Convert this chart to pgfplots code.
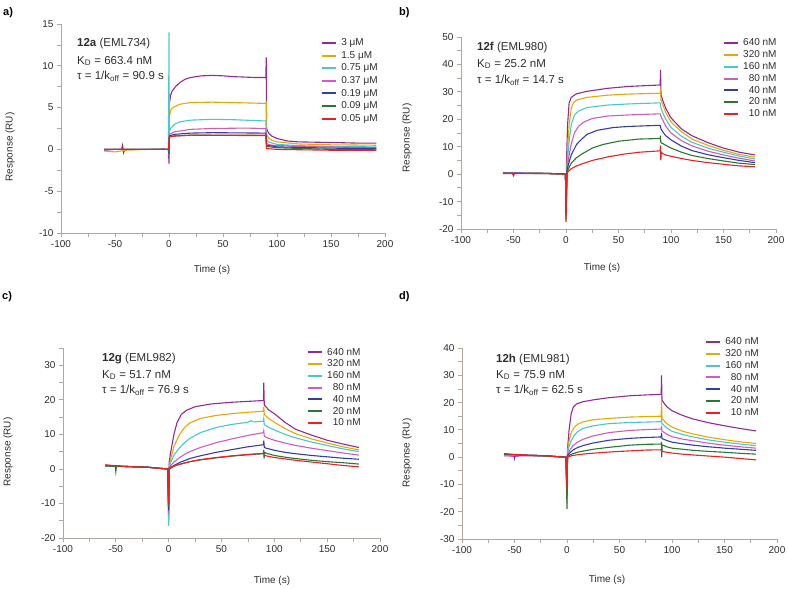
\documentclass[border=0pt]{standalone}
\usepackage{fontspec}
\setmainfont{Liberation Sans}
\usepackage{pgfplots}
\pgfplotsset{compat=1.18}
\definecolor{cP}{RGB}{150,40,150}
\definecolor{cO}{RGB}{232,168,0}
\definecolor{cC}{RGB}{70,200,210}
\definecolor{cK}{RGB}{210,90,190}
\definecolor{cB}{RGB}{50,60,170}
\definecolor{cG}{RGB}{40,120,50}
\definecolor{cR}{RGB}{240,30,30}
\definecolor{axc}{RGB}{175,168,155}
\definecolor{txt}{RGB}{45,45,45}
\pgfplotsset{
  spr/.style={scale only axis, axis lines*=left,
    axis line style={draw=axc, line width=0.8pt, -},
    every tick/.style={draw=axc, line width=0.8pt},
    tick align=outside, major tick length=4pt, minor tick length=4pt,
    xmin=-100, xmax=200, xtick={-100,-50,...,200},
    xticklabels={-100,-50,0,50,100,150,200},
    minor x tick num=1, minor y tick num=1,
    ticklabel style={font=\fontsize{10}{12}\selectfont, text=txt},
    clip=false,
    every axis plot/.append style={line width=1.1pt, no markers},
    legend cell align=left,
    legend image code/.code={\fill[##1, draw=none] (0pt,-1pt) rectangle (14pt,1pt);},
    legend style={draw=none, fill=none, anchor=north west, inner sep=0pt,
      font=\fontsize{10}{11}\selectfont, text=txt,
      nodes={inner sep=1pt, text height=7.7pt, text depth=2.1pt},
      /tikz/every odd column/.append style={column sep=4pt}},
  }
}
\begin{document}
\begin{tikzpicture}
\useasboundingbox (0,0) rectangle (788pt,-589pt);
\tikzset{lab/.style={font=\fontsize{10}{12}\selectfont, text=txt},
  ann/.style={font=\fontsize{11.5}{13}\selectfont, text=txt, anchor=west, inner sep=0pt},
  pl/.style={font=\bfseries\fontsize{11}{13}\selectfont, anchor=west, inner sep=0pt}}
% ---------------- panel a
\begin{axis}[spr, at={(61pt,-233pt)}, anchor=south west, width=324pt, height=209pt,
  ymin=-10, ymax=15, ytick={-10,-5,...,15}, yticklabels={-10,-5,0,5,10,15},
  legend style={at={(0.806,0.94)}, nodes={text height=8pt, text depth=2.6pt}}]
\addplot[cP] coordinates {(-60,-0.1)(-50,0)(-44,0)(-43,0.5)(-42,-0.4)(-41,0)(-20,0)(-5,0.05)(-0.5,0)(0,-1.7)(0.4,5.5)(1.5,6.5)(3,7)(6,7.5)(10,8)(15,8.4)(20,8.6)(30,8.8)(40,8.85)(50,8.8)(60,8.7)(70,8.65)(80,8.6)(89.7,8.6)(90,11)(90.3,2.5)(92,2)(95,1.6)(100,1.3)(110,1.0)(120,0.9)(140,0.85)(160,0.8)(175,0.75)(192,0.75)};
\addplot[cO] coordinates {(-60,-0.2)(-50,-0.3)(-40,-0.1)(-20,0)(-0.5,0)(0,-0.5)(0.4,4)(2,4.8)(5,5.1)(10,5.4)(20,5.6)(40,5.65)(60,5.6)(89.7,5.5)(90,5.6)(90.3,1.8)(92,1.4)(95,1.1)(100,0.9)(120,0.65)(150,0.55)(192,0.5)};
\addplot[cC] coordinates {(-60,0)(-40,0)(-20,0)(-0.5,0)(0,14)(0.3,2.2)(2,2.6)(5,3)(10,3.3)(20,3.5)(40,3.6)(60,3.55)(80,3.45)(89.7,3.4)(90.3,1.2)(92,0.9)(100,0.6)(120,0.45)(150,0.35)(192,0.3)};
\addplot[cK] coordinates {(-60,0)(-20,0)(-0.5,0)(0,-0.8)(0.3,1.8)(5,2.1)(20,2.4)(40,2.5)(70,2.55)(89.7,2.5)(90.3,0.7)(95,0.5)(120,0.35)(192,0.2)};
\addplot[cB] coordinates {(-60,0)(-20,0)(-0.5,0)(0,-0.6)(0.3,1.6)(5,1.8)(20,1.95)(40,2.0)(89.7,1.95)(90.3,0.5)(100,0.3)(150,0.15)(192,0.1)};
\addplot[cG] coordinates {(-60,0)(-20,0)(-0.5,0)(0,-0.5)(0.3,1.5)(5,1.6)(20,1.7)(89.7,1.65)(90.3,0.35)(100,0.2)(150,0.0)(192,-0.05)};
\addplot[cR] coordinates {(-60,0)(-20,0)(-0.5,0)(0.3,1.5)(5,1.6)(20,1.7)(89.7,1.7)(90.3,0.1)(100,0.0)(150,-0.1)(192,-0.1)};
\legend{3 μM,1.5 μM,0.75 μM,0.37 μM,0.19 μM,0.09 μM,0.05 μM}
\end{axis}
% ---------------- panel b
\begin{axis}[spr, at={(461pt,-229pt)}, anchor=south west, width=315pt, height=192pt,
  ymin=-20, ymax=50, ytick={-20,-10,...,50}, yticklabels={-20,-10,0,10,20,30,40,50},
  legend style={at={(0.835,1.0)}}]
\addplot[cP] coordinates {(-60,0.6)(-40,0.4)(-20,0.3)(-5,0.1)(-0.5,0)(0,-13)(0.5,5)(1.5,18)(3,26)(5,28)(10,29.3)(20,30.2)(40,31.3)(60,32)(89.7,32.5)(90,38)(90.5,29)(92,27)(95,24)(100,20.5)(110,16.5)(120,14)(135,11.5)(150,9.5)(165,8)(180,7)};
\addplot[cO] coordinates {(-60,0.5)(-40,0.4)(-20,0.3)(-5,0.1)(-0.5,0)(0,-14)(1,4)(2,12)(3,18)(5,24)(7,26)(10,27)(20,28)(40,28.8)(60,29.2)(89.7,29.5)(90,30)(90.5,27)(92,25.5)(95,22.5)(100,19)(110,15.5)(120,12.8)(135,10.5)(150,8.7)(165,7.2)(180,6.2)};
\addplot[cC] coordinates {(-60,0.5)(-40,0.4)(-20,0.3)(-5,0.1)(-0.5,0)(0,-13)(1,3)(3,12)(5,18)(8,21.5)(12,23)(20,24.3)(40,25.2)(60,25.6)(89.7,26)(90.5,24)(92,22.5)(95,20)(100,17)(110,13.8)(120,11.6)(135,9.5)(150,8)(165,6.6)(180,5.5)};
\addplot[cK] coordinates {(-60,0.4)(-40,0.4)(-20,0.3)(-5,0.1)(-0.5,0)(0,-14)(1,2)(3,7)(5,11)(8,15)(12,17.5)(17,19)(25,20.3)(40,21.2)(60,21.6)(89.7,22)(90.5,21)(92,19.8)(95,17.5)(100,15)(110,12.2)(120,10.3)(135,8.4)(150,7)(165,5.8)(180,4.8)};
\addplot[cB] coordinates {(-60,0.4)(-40,0.3)(-20,0.3)(-5,0.1)(-0.5,0)(0,-15)(1,1.5)(3,4.5)(5,7)(10,10.8)(15,12.8)(20,14.5)(30,16)(45,17)(60,17.4)(89.7,17.8)(90.5,16.5)(92,15.5)(95,14)(100,12.5)(110,10.2)(120,8.6)(135,7.1)(150,6)(165,5)(180,4.2)};
\addplot[cG] coordinates {(-60,0.3)(-40,0.3)(-20,0.2)(-5,0.1)(-0.5,0)(0,-16.5)(1,1)(3,2.5)(5,4)(10,6)(15,7.3)(25,9.5)(35,10.8)(50,12)(70,12.8)(89.7,13)(90,14)(90.3,11.5)(92,11.2)(95,10.5)(100,9.5)(110,8)(120,6.8)(135,5.7)(150,4.8)(165,4)(180,3.5)};
\addplot[cR] coordinates {(-60,0.2)(-51,0.2)(-50,-0.6)(-49,0.2)(-40,0.2)(-20,0.2)(-5,0.1)(-0.5,0)(0,-17.5)(1,0.5)(3,1.3)(5,2)(10,3)(15,3.7)(25,5)(40,6.3)(55,7.3)(70,8)(89.7,8.5)(90,10.5)(90.3,5)(90.8,8)(92,7.5)(95,7)(100,6.5)(110,5.7)(120,5)(135,4.2)(150,3.6)(165,3)(180,2.7)};
\legend{640 nM,320 nM,160 nM,\phantom{0}80 nM,\phantom{0}40 nM,\phantom{0}20 nM,\phantom{0}10 nM}
\end{axis}
% ---------------- panel c
\begin{axis}[spr, at={(63pt,-538pt)}, anchor=south west, width=317pt, height=190pt,
  ymin=-20, ymax=35, ytick={-20,-10,...,30}, yticklabels={-20,-10,0,10,20,30},
  extra y ticks={35}, extra y tick labels={},
  legend style={at={(0.773,1.01)}}]
\addplot[cP] coordinates {(-60,1.1)(-50,0.8)(-40,0.7)(-20,0.5)(-10,0.2)(-1,0)(0,-15)(0.5,2)(2,5)(5,10)(8,13.5)(12,15.8)(17,17)(25,18)(40,18.8)(60,19.3)(89.7,19.8)(90,25)(90.5,18.5)(92,18)(95,17)(100,16)(110,13.5)(120,11.5)(135,9.8)(150,8.3)(165,7.2)(180,6.2)};
\addplot[cO] coordinates {(-60,0.9)(-50,0.8)(-40,0.7)(-20,0.5)(-10,0.2)(-1,0)(0,-12)(0.5,1)(2,3)(5,6.5)(10,9.8)(15,12)(20,13.3)(30,14.6)(45,15.5)(60,16)(75,16.4)(89.7,16.7)(90,18)(90.5,15.8)(92,15.3)(95,14.5)(100,13.5)(110,11.7)(120,10.2)(135,8.7)(150,7.5)(165,6.4)(180,5.5)};
\addplot[cC] coordinates {(-60,1.0)(-50,0.8)(-40,0.7)(-20,0.5)(-10,0.2)(-1,0)(0,-16.5)(0.5,0.5)(2,2)(5,4)(10,6)(15,7.6)(20,8.8)(30,10.5)(45,12)(60,12.9)(75,13.5)(78,14)(80,13.6)(89.7,13.8)(90,14.5)(90.5,12.8)(92,12.5)(95,12)(100,11.3)(110,10)(120,9)(135,7.8)(150,6.8)(165,5.8)(180,5)};
\addplot[cK] coordinates {(-60,0.9)(-50,0.8)(-40,0.7)(-20,0.5)(-10,0.2)(-1,0)(0,-13)(0.5,0.3)(2,1)(5,2)(10,3.2)(15,4.2)(20,5)(30,6.2)(45,7.6)(60,8.7)(75,9.7)(89.7,10.5)(90,11)(90.5,9.5)(92,9.2)(95,8.8)(100,8.3)(110,7.5)(120,6.8)(135,6)(150,5.3)(165,4.6)(180,4)};
\addplot[cB] coordinates {(-60,0.9)(-50,0.8)(-40,0.7)(-20,0.5)(-10,0.2)(-1,0)(0,-12)(0.5,0.2)(5,1)(10,1.8)(20,3)(30,3.8)(45,4.8)(60,5.6)(75,6.4)(89.7,7)(90,8.2)(90.5,6.3)(92,6)(95,5.8)(100,5.4)(110,4.8)(120,4.4)(135,3.9)(150,3.5)(165,3.1)(180,2.8)};
\addplot[cG] coordinates {(-60,0.8)(-50.6,0.8)(-50,-0.8)(-49.4,0.8)(-40,0.7)(-20,0.5)(-10,0.2)(-1,0)(0,-11)(0.5,0)(5,0.8)(10,1.3)(20,2.1)(30,2.6)(45,3.2)(60,3.7)(75,4.1)(89.7,4.4)(90,5.5)(90.3,3)(90.8,4.8)(92,4.6)(95,4.3)(100,3.9)(110,3.4)(120,3)(135,2.5)(150,2.1)(165,1.8)(180,1.4)};
\addplot[cR] coordinates {(-60,1.2)(-50,0.9)(-40,0.7)(-20,0.5)(-10,0.2)(-1,0)(0,-10)(0.5,0)(5,0.8)(10,1.3)(20,2.1)(30,2.7)(45,3.3)(60,3.8)(75,4.2)(89.7,4.5)(90.5,4.0)(92,3.8)(95,3.6)(100,3.3)(110,2.9)(120,2.5)(135,2)(150,1.5)(165,1.0)(180,0.6)};
\legend{640 nM,320 nM,160 nM,\phantom{0}80 nM,\phantom{0}40 nM,\phantom{0}20 nM,\phantom{0}10 nM}
\end{axis}
% ---------------- panel d
\begin{axis}[spr, at={(462pt,-539pt)}, anchor=south west, width=315pt, height=191pt,
  ymin=-30, ymax=40, ytick={-30,-20,...,40}, yticklabels={-30,-20,-10,0,10,20,30,40},
  legend style={at={(0.775,1.063)}}]
\addplot[cP] coordinates {(-60,0.5)(-50.6,0.4)(-50,-0.6)(-49.4,0.4)(-40,0.5)(-20,0.4)(-10,0.2)(-1,0)(0,-14)(0.5,3)(2,10)(4,16)(6,18.3)(9,19.5)(15,20.3)(25,21)(40,21.8)(60,22.5)(75,22.8)(89.7,23)(90,30)(90.5,21)(92,20)(95,18.5)(100,17)(110,15.3)(120,14)(135,12.6)(150,11.5)(165,10.5)(180,9.6)};
\addplot[cO] coordinates {(-60,0.8)(-50,0.8)(-40,0.7)(-20,0.5)(-10,0.2)(-1,0)(0,-17)(0.5,2)(2,6)(4,9)(7,11)(10,12)(15,12.9)(25,13.7)(40,14.2)(60,14.7)(89.7,15)(90,21)(90.5,14.2)(92,13.5)(95,12.3)(100,11)(110,9.5)(120,8.5)(135,7.3)(150,6.4)(165,5.6)(180,5)};
\addplot[cC] coordinates {(-60,0.9)(-50,0.8)(-40,0.7)(-20,0.5)(-10,0.2)(-1,0)(0,-15)(0.5,1.5)(2,4)(4,6)(7,8)(10,9.3)(15,10.5)(25,11.5)(40,12.3)(60,12.7)(89.7,13)(90,14)(90.5,12.2)(92,11.8)(95,10.7)(100,9.5)(110,8.3)(120,7.4)(135,6.3)(150,5.5)(165,4.8)(180,4.2)};
\addplot[cK] coordinates {(-60,1.0)(-50,0.9)(-40,0.7)(-20,0.5)(-10,0.2)(-1,0)(0,-13)(0.5,1)(3,2.8)(6,4.3)(10,5.5)(15,6.5)(25,7.8)(40,9)(60,9.8)(75,10.1)(89.7,10.3)(90,11.5)(90.5,9.5)(92,9.2)(95,8.4)(100,7.5)(110,6.6)(120,6)(135,5.1)(150,4.4)(165,3.8)(180,3.3)};
\addplot[cB] coordinates {(-60,1.0)(-50,0.9)(-40,0.7)(-20,0.5)(-10,0.2)(-1,0)(0,-14)(0.5,0.5)(3,1.7)(6,2.7)(10,3.5)(15,4.2)(25,5.2)(40,6.2)(60,6.9)(75,7.2)(89.7,7.4)(90,9)(90.5,6.8)(92,6.6)(95,6.1)(100,5.5)(110,4.9)(120,4.4)(135,3.8)(150,3.3)(165,2.9)(180,2.5)};
\addplot[cG] coordinates {(-60,1.1)(-50,0.9)(-40,0.7)(-20,0.5)(-10,0.2)(-1,0)(0,-19)(0.5,0.3)(5,1.2)(10,1.8)(15,2.2)(25,2.9)(40,3.6)(60,4.4)(75,4.7)(89.7,4.8)(90,5.5)(90.2,0)(90.6,4.5)(92,4.3)(95,3.8)(100,3.3)(110,2.9)(120,2.5)(135,2.1)(150,1.8)(165,1.4)(180,1.1)};
\addplot[cR] coordinates {(-60,1.3)(-50,1.0)(-40,0.8)(-20,0.5)(-10,0.2)(-1,0)(0,-12)(0.5,0)(5,0.6)(10,0.9)(20,1.3)(30,1.6)(45,2)(60,2.3)(75,2.6)(89.7,2.7)(90.5,2.2)(92,2)(95,1.8)(100,1.5)(110,1.1)(120,0.8)(135,0.4)(150,0)(165,-0.5)(180,-1)};
\legend{640 nM,320 nM,160 nM,\phantom{0}80 nM,\phantom{0}40 nM,\phantom{0}20 nM,\phantom{0}10 nM}
\end{axis}
% ---------------- texts
\node[pl] at (3pt,-13pt) {a)};
\node[pl] at (399pt,-13pt) {b)};
\node[pl] at (2pt,-297pt) {c)};
\node[pl] at (399pt,-297pt) {d)};
\node[lab] at (212pt,-270pt) {Time (s)};
\node[lab] at (602pt,-268pt) {Time (s)};
\node[lab] at (272pt,-581pt) {Time (s)};
\node[lab] at (607pt,-580pt) {Time (s)};
\node[lab, rotate=90] at (10pt,-147pt) {Response (RU)};
\node[lab, rotate=90] at (407pt,-138pt) {Response (RU)};
\node[lab, rotate=90] at (8pt,-452pt) {Response (RU)};
\node[lab, rotate=90] at (407pt,-453pt) {Response (RU)};
\node[ann] at (77pt,-44pt) {\textbf{12a} (EML734)};
\node[ann] at (77pt,-61pt) {K\textsubscript{D} = 663.4 nM};
\node[ann] at (77pt,-76pt) {τ = 1/k\textsubscript{off} = 90.9 s};
\node[ann] at (477pt,-48pt) {\textbf{12f} (EML980)};
\node[ann] at (477pt,-64pt) {K\textsubscript{D} = 25.2 nM};
\node[ann] at (477pt,-80pt) {τ = 1/k\textsubscript{off} = 14.7 s};
\node[ann] at (102pt,-359pt) {\textbf{12g} (EML982)};
\node[ann] at (102pt,-375pt) {K\textsubscript{D} = 51.7 nM};
\node[ann] at (102pt,-390pt) {τ = 1/k\textsubscript{off} = 76.9 s};
\node[ann] at (496pt,-360pt) {\textbf{12h} (EML981)};
\node[ann] at (496pt,-375pt) {K\textsubscript{D} = 75.9 nM};
\node[ann] at (496pt,-390pt) {τ = 1/k\textsubscript{off} = 62.5 s};
\end{tikzpicture}
\end{document}
